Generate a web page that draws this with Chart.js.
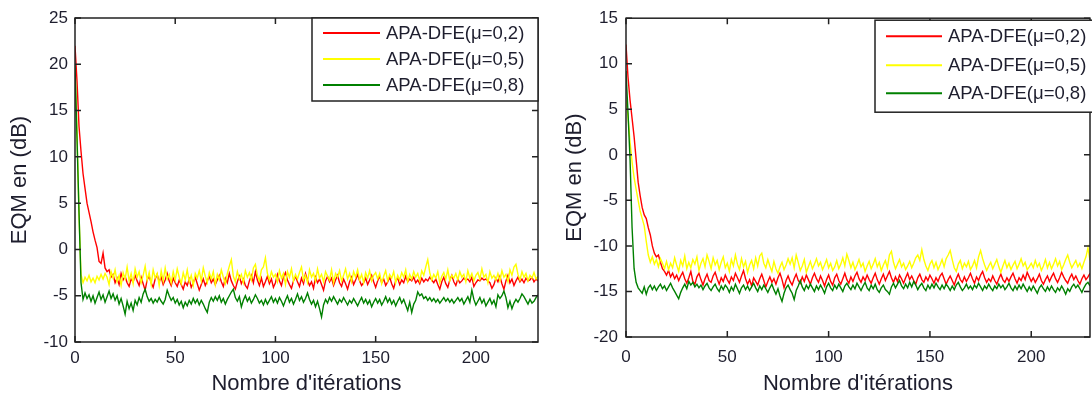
<!DOCTYPE html>
<html>
<head>
<meta charset="utf-8">
<script src="https://cdn.jsdelivr.net/npm/chart.js@4.4.1/dist/chart.umd.min.js"></script>
<style>
  html, body { margin: 0; padding: 0; background: #fff; overflow: hidden; }
  .panel { position: absolute; top: 0; width: 546px; height: 398px; }
  #leftPanel { left: 0; }
  #rightPanel { left: 546px; }
</style>
</head>
<body>
<div class="panel" id="leftPanel"><canvas id="chartLeft" width="546" height="398"></canvas></div>
<div class="panel" id="rightPanel"><canvas id="chartRight" width="546" height="398"></canvas></div>
<script>
// legend labels, shared by both panels
const seriesLabels = ["APA-DFE(\u03bc=0,2)", "APA-DFE(\u03bc=0,5)", "APA-DFE(\u03bc=0,8)"];
const seriesColors = ["#ff0000", "#ffff00", "#008000"];
const xTickValues = [0, 50, 100, 150, 200];
const yTicksLeft = [-10, -5, 0, 5, 10, 15, 20, 25];
const yTicksRight = [-20, -15, -10, -5, 0, 5, 10, 15];

// left panel, EQM (dB) per iteration (0..231)
const leftRed = [
  22.0, 18.2, 13.3, 10.6, 8.2, 6.6, 5.0, 4.0, 3.0, 1.9, 1.0,
  0.2, -1.3, -1.5, -0.4, -2.0, -2.4, -2.2, -3.0, -2.7, -3.6,
  -3.1, -3.8, -2.6, -3.3, -2.9, -3.6, -4.0, -3.2, -3.5, -2.8,
  -3.4, -3.9, -3.0, -3.7, -4.4, -3.3, -2.9, -3.6, -4.1, -3.2,
  -2.7, -3.5, -3.0, -3.8, -3.3, -2.6, -3.4, -3.9, -3.1, -3.6,
  -4.0, -3.3, -3.8, -4.3, -3.5, -3.9, -3.2, -4.1, -3.6, -3.0,
  -3.7, -4.4, -3.8, -3.2, -3.9, -3.4, -2.9, -3.6, -3.2, -3.8,
  -3.3, -2.8, -3.5, -4.0, -3.1, -3.6, -2.6, -3.4, -3.9, -4.3,
  -3.5, -2.9, -3.7, -3.2, -3.9, -4.2, -3.4, -2.8, -3.6, -2.4,
  -3.3, -3.9, -3.1, -4.0, -3.5, -2.9, -3.7, -3.2, -4.1, -3.6,
  -2.7, -3.4, -3.9, -3.0, -2.5, -3.3, -3.8, -4.2, -3.4, -2.9,
  -3.5, -4.0, -3.1, -3.7, -2.6, -3.3, -3.9, -3.5, -4.2, -3.0,
  -3.6, -3.2, -3.8, -4.4, -3.4, -2.9, -3.5, -3.1, -3.9, -3.3,
  -2.8, -3.6, -4.0, -3.2, -3.7, -4.3, -3.5, -3.0, -3.8, -3.3,
  -2.7, -3.4, -3.9, -3.6, -3.1, -3.8, -3.3, -2.8, -3.5, -4.1,
  -3.4, -2.9, -3.6, -3.2, -3.9, -3.5, -3.0, -3.7, -4.2, -3.4,
  -3.1, -3.8, -3.3, -3.6, -2.9, -3.5, -3.2, -3.4, -3.0, -3.6,
  -3.3, -3.7, -3.1, -3.5, -3.2, -3.4, -3.0, -3.3, -3.6, -3.2,
  -3.8, -4.3, -3.5, -3.0, -3.7, -4.1, -3.3, -2.8, -3.5, -3.9,
  -3.2, -3.6, -3.4, -3.1, -3.3, -3.2, -3.5, -3.0, -4.0, -3.6,
  -3.3, -3.4, -3.1, -3.3, -3.2, -3.4, -3.6, -4.2, -3.8, -3.1,
  -3.5, -2.9, -3.7, -4.3, -3.4, -2.8, -3.6, -3.2, -3.9, -3.4,
  -3.0, -3.5, -3.2, -3.6, -3.1, -3.4, -3.3, -3.0, -3.5, -3.2, -3.4
];
const leftYellow = [
  19.5, 12.6, 3.8, -2.7, -3.6, -3.0, -3.4, -2.8, -3.5, -3.1, -3.6,
  -2.9, -3.3, -2.7, -3.2, -2.6, -3.0, -3.8, -2.4, -3.1, -2.2,
  -3.5, -2.8, -3.9, -2.5, -3.2, -1.9, -3.4, -2.6, -3.7, -2.1,
  -3.0, -2.4, -3.6, -2.8, -1.8, -3.3, -2.5, -3.8, -2.2, -3.1,
  -2.6, -3.9, -2.3, -3.4, -2.0, -3.2, -2.7, -3.6, -2.4, -3.3,
  -2.1, -3.0, -3.7, -2.5, -3.3, -2.2, -3.5, -2.8, -3.9, -2.6,
  -3.1, -2.3, -3.4, -2.0, -2.9, -3.6, -2.5, -3.2, -2.4, -3.8,
  -2.7, -3.3, -2.2, -3.0, -3.7, -2.6, -1.8, -1.1, -2.9, -3.5,
  -2.4, -3.2, -2.7, -3.6, -2.3, -3.0, -2.5, -3.3, -2.0, -1.6,
  -2.8, -3.4, -2.2, -1.9, -0.9, -2.6, -3.3, -2.4, -3.0, -2.7,
  -3.5, -2.3, -3.1, -2.6, -3.8, -2.4, -3.0, -2.1, -3.4, -2.7,
  -3.2, -2.5, -1.9, -3.3, -2.8, -3.6, -2.2, -3.0, -2.6, -3.4,
  -2.1, -3.1, -2.7, -3.5, -2.4, -2.9, -3.3, -2.2, -3.6, -2.6,
  -3.0, -2.3, -3.4, -2.8, -2.1, -3.2, -2.6, -3.5, -2.4, -3.0,
  -2.2, -3.3, -2.7, -3.6, -2.5, -3.1, -2.3, -3.4, -2.8, -2.5,
  -3.2, -2.6, -3.7, -2.9, -2.3, -3.4, -2.7, -3.1, -2.4, -3.6,
  -2.8, -3.3, -2.5, -3.0, -2.2, -3.5, -2.7, -3.2, -2.4, -3.0,
  -2.6, -3.4, -2.3, -2.8, -1.9, -1.1, -2.5, -3.3, -2.7, -3.1,
  -2.4, -3.6, -2.9, -2.5, -3.2, -2.2, -3.4, -2.8, -3.1, -2.6,
  -3.3, -2.4, -3.0, -2.7, -3.5, -2.3, -3.1, -2.6, -3.4, -2.8,
  -2.5, -3.2, -2.1, -3.0, -2.7, -3.6, -2.4, -3.1, -2.8, -3.3,
  -2.6, -3.4, -2.3, -3.0, -2.7, -3.5, -2.2, -2.8, -1.9, -1.6,
  -2.7, -3.3, -2.4, -3.0, -2.6, -3.4, -2.8, -3.1, -2.5, -3.2, -2.9
];
const leftGreen = [
  19.9, 12.0, 4.0, -3.6, -5.4, -4.7, -5.3, -4.9, -5.6, -5.0, -5.8,
  -5.2, -4.6, -5.4, -4.9, -5.7, -5.1, -4.5, -5.3, -4.8, -5.5,
  -5.0, -5.9, -5.3, -6.1, -7.0, -5.6, -6.4, -5.8, -6.6, -5.5,
  -6.0, -5.2, -5.7, -4.8, -4.3, -5.1, -5.6, -5.3, -5.8, -5.4,
  -5.7, -5.2, -5.6, -5.9, -5.4, -4.4, -5.0, -5.5, -5.2, -5.8,
  -5.4, -6.0, -5.6, -6.3, -5.7, -6.1, -5.5, -5.9, -5.3, -5.8,
  -5.4, -6.0, -5.5, -5.9, -6.4, -6.8, -5.7, -5.2, -5.6, -5.1,
  -5.5, -5.0, -5.7, -5.3, -5.9, -5.4, -5.0, -4.6, -4.3, -5.2,
  -5.6, -5.1, -6.2, -5.5, -5.0, -5.6, -5.2, -5.8, -5.4, -4.9,
  -5.3, -5.8, -5.5, -6.0, -5.4, -5.9, -5.5, -5.1, -5.7, -5.3,
  -5.8, -5.2, -5.6, -6.1, -5.5, -5.0, -5.7, -5.3, -5.9, -5.4,
  -4.8, -5.5, -5.1, -5.7, -5.3, -4.7, -5.4, -5.9, -5.5, -6.2,
  -5.6, -6.4, -7.3, -6.0, -5.4, -5.8, -5.2, -5.6, -5.1, -5.5,
  -5.9, -5.4, -5.7, -5.2, -5.6, -6.0, -5.5, -5.8, -5.3, -5.7,
  -6.1, -5.6, -5.2, -5.8, -5.4, -5.9, -5.5, -6.2, -5.7, -5.3,
  -5.8, -5.4, -6.0, -5.6, -5.1, -5.7, -5.3, -5.9, -5.5, -6.1,
  -5.6, -5.2, -5.8, -5.4, -6.0, -6.6, -5.7, -6.8, -5.9, -5.5,
  -4.6, -5.0, -4.8, -5.3, -5.1, -5.5, -5.2, -5.6, -5.3, -5.7,
  -5.4, -5.8, -5.5, -5.2, -5.6, -5.3, -5.7, -5.4, -5.8, -5.5,
  -5.2, -5.6, -5.3, -5.9, -5.5, -5.1, -5.7, -4.4, -5.4, -6.0,
  -5.6, -5.2, -5.8, -5.4, -6.1, -5.7, -5.3, -5.9, -5.5, -6.2,
  -4.9, -5.3, -5.0, -4.5, -5.2, -6.3, -5.6, -6.4, -5.8, -5.4,
  -5.7, -5.3, -4.8, -5.1, -5.5, -5.9, -5.4, -5.8, -5.6, -5.2, -4.9
];

// right panel, EQM (dB) per iteration (0..229)
const rightRed = [
  12.1, 8.5, 6.0, 4.0, 2.0, -0.5, -3.0, -4.5, -5.8, -6.6, -7.0,
  -8.0, -8.8, -10.0, -10.8, -11.2, -11.0, -11.8, -12.5, -12.8, -13.2,
  -12.7, -13.4, -13.0, -13.6, -13.2, -13.8, -13.3, -12.9, -13.6, -14.1,
  -13.5, -12.8, -13.9, -14.2, -13.4, -13.0, -13.7, -14.3, -13.6, -13.1,
  -13.8, -14.0, -13.3, -12.9, -13.6, -14.2, -13.5, -13.9, -13.2, -13.7,
  -14.1, -13.4, -13.8, -13.0, -13.5, -14.0, -13.3, -12.7, -13.6, -14.2,
  -13.7, -14.4, -13.5, -13.9, -14.3, -13.6, -13.1, -13.8, -14.5, -13.9,
  -13.4, -14.0, -13.6, -14.2, -13.5, -13.0, -13.7, -14.6, -13.8, -13.3,
  -13.9, -14.3, -13.6, -13.1, -13.8, -14.1, -13.4, -13.9, -13.2, -13.7,
  -14.2, -13.5, -13.0, -13.6, -14.0, -13.3, -13.8, -14.4, -13.7, -13.2,
  -13.9, -14.3, -13.5, -13.1, -13.8, -14.2, -13.6, -13.0, -13.7, -14.1,
  -13.4, -13.9, -13.3, -12.9, -13.6, -14.0, -13.4, -13.8, -13.2, -13.7,
  -14.1, -13.5, -13.0, -13.7, -14.2, -13.6, -13.1, -13.8, -13.3, -12.8,
  -13.5, -14.0, -13.4, -13.9, -13.2, -13.6, -14.1, -13.5, -13.0, -13.7,
  -13.3, -13.8, -14.2, -13.5, -13.1, -13.7, -14.0, -13.4, -13.8, -13.2,
  -13.6, -14.1, -13.5, -13.9, -13.3, -13.0, -13.6, -14.2, -13.7, -13.3,
  -13.8, -14.3, -13.6, -13.1, -13.7, -14.0, -13.4, -13.9, -13.5, -13.0,
  -13.6, -14.1, -13.4, -13.8, -13.2, -12.8, -13.5, -14.0, -13.6, -13.9,
  -13.3, -13.8, -14.2, -13.6, -13.1, -13.7, -14.0, -13.5, -13.9, -13.4,
  -13.0, -13.6, -14.1, -13.5, -13.8, -13.2, -13.7, -12.9, -13.4, -13.9,
  -13.5, -14.0, -13.6, -13.1, -13.8, -14.2, -13.7, -13.3, -13.9, -13.4,
  -13.0, -13.6, -14.0, -13.5, -12.9, -13.4, -13.8, -14.1, -13.5, -13.1,
  -13.7, -13.3, -13.8, -14.2, -13.6, -13.2, -13.7, -13.4, -13.0
];
const rightYellow = [
  6.0, 4.2, 1.4, -0.8, -2.5, -3.8, -5.0, -6.2, -7.0, -7.8, -9.5,
  -11.0, -11.8, -11.2, -12.0, -11.5, -12.3, -11.4, -11.9, -12.5, -11.7,
  -12.6, -11.9, -12.4, -11.3, -12.1, -12.8, -11.6, -12.2, -11.1, -12.5,
  -11.8, -12.4, -11.5, -12.0, -11.2, -12.7, -11.9, -11.4, -12.3, -11.0,
  -11.7, -12.5, -11.3, -12.1, -11.6, -12.6, -11.8, -11.2, -12.4, -11.9,
  -12.8, -11.5, -12.2, -11.0, -12.0, -12.6, -11.4, -12.3, -11.7, -12.9,
  -12.1, -11.6, -12.5, -11.3, -12.2, -11.1, -10.8, -11.9, -12.4, -11.5,
  -12.2, -12.8, -11.7, -12.5, -13.0, -12.3, -11.8, -12.6, -12.1, -11.4,
  -12.0, -11.3, -12.4, -11.0, -11.8, -12.7, -12.2, -11.5, -12.9, -12.3,
  -11.7, -12.5, -12.0, -11.4, -12.2, -11.8, -12.6, -12.1, -11.5, -12.4,
  -11.9, -12.7, -12.3, -11.6, -12.5, -12.0, -11.3, -12.2, -10.9, -11.6,
  -12.4, -11.8, -12.6, -12.1, -11.5, -12.3, -11.9, -12.8, -12.2, -11.7,
  -12.5, -12.0, -11.4, -12.3, -11.8, -12.7, -12.1, -11.6, -12.4, -11.0,
  -10.6, -11.8, -12.5, -12.0, -11.5, -12.3, -11.9, -12.6, -12.2, -11.7,
  -12.4, -11.9, -11.3, -11.0, -11.6, -10.4, -11.5, -12.2, -12.7, -12.0,
  -11.6, -12.4, -11.8, -12.6, -12.1, -11.5, -12.3, -11.4, -11.0, -10.5,
  -11.5, -12.4, -12.8, -12.0, -11.6, -12.5, -11.9, -12.3, -11.7, -12.6,
  -12.2, -11.6, -12.4, -11.2, -10.5, -11.4, -12.1, -12.7, -12.2, -11.8,
  -12.5, -12.0, -11.5, -12.3, -12.9, -12.2, -11.6, -12.4, -11.9, -12.6,
  -12.1, -11.7, -12.5, -12.0, -11.4, -12.2, -11.8, -12.6, -12.3, -11.9,
  -12.4, -11.6, -12.3, -11.9, -12.7, -12.2, -11.5, -12.4, -11.8, -12.5,
  -12.0, -11.4, -12.2, -11.7, -12.6, -12.1, -11.5, -11.0, -11.8, -12.4,
  -12.0, -11.6, -12.3, -11.9, -12.5, -11.8, -11.2, -10.2, -11.6
];
const rightGreen = [
  9.2, 4.6, -0.5, -8.0, -12.5, -14.0, -14.6, -14.9, -15.2, -14.5, -15.3,
  -14.6, -14.3, -14.8, -14.4, -14.9, -14.5, -14.2, -14.7, -14.4, -14.9,
  -14.5, -14.1, -14.6, -15.0, -15.4, -15.8, -15.1, -14.6, -14.2, -14.7,
  -13.9, -14.3, -14.0, -14.5, -14.2, -14.6, -14.3, -14.8, -14.4, -14.1,
  -14.6, -14.9, -14.5, -14.2, -14.7, -15.0, -14.4, -14.8, -14.3, -14.6,
  -15.1, -14.5, -14.9, -14.2, -14.7, -15.2, -14.6, -14.3, -14.8, -14.4,
  -14.9, -14.5, -14.1, -14.6, -15.0, -14.4, -14.8, -14.3, -14.7, -15.1,
  -14.6, -14.2, -14.8, -15.3, -14.7, -15.5, -16.1, -15.2, -14.6, -14.3,
  -14.8, -15.2, -15.9, -14.9, -14.4, -13.8, -14.5, -14.9, -14.3, -14.7,
  -14.2, -14.6, -15.0, -14.4, -14.8, -14.3, -14.7, -15.2, -14.5, -14.1,
  -14.6, -14.9, -14.3, -14.7, -14.2, -14.6, -15.0, -14.4, -14.1, -14.5,
  -14.8, -14.3, -14.7, -14.1, -14.5, -14.9, -14.4, -14.0, -14.6, -14.9,
  -14.3, -14.7, -14.2, -14.8, -15.1, -14.6, -14.3, -14.8, -15.0, -15.3,
  -14.5, -14.1, -14.6, -14.2, -13.8, -14.4, -14.7, -14.2, -14.6, -14.0,
  -14.5, -13.9, -14.3, -14.8, -14.4, -14.1, -14.6, -14.9, -14.3, -14.7,
  -14.2, -14.6, -14.1, -14.5, -14.8, -14.3, -14.7, -14.2, -14.5, -14.9,
  -14.4, -14.8, -14.3, -14.0, -14.5, -14.9, -14.6, -14.2, -14.7, -14.4,
  -14.8, -14.3, -14.6, -14.1, -14.5, -14.9, -14.4, -14.7, -14.2, -14.6,
  -14.9, -14.4, -14.7, -14.2, -14.6, -14.3, -14.8, -14.5, -14.1, -14.6,
  -14.9, -14.4, -14.8, -14.3, -14.7, -14.2, -14.6, -15.0, -14.5, -14.9,
  -14.4, -14.8, -15.2, -14.6, -14.3, -14.7, -15.0, -14.5, -14.9, -14.4,
  -14.8, -15.1, -14.6, -14.9, -14.4, -14.8, -15.3, -14.7, -15.0, -14.5,
  -14.2, -14.6, -14.3, -14.7, -15.1, -14.6, -14.2, -14.0, -14.4
];

const FONT = "'Liberation Sans', Arial, sans-serif";
const TEXT = "#1e1e2e";

// Frame with inward ticks (MATLAB style) plus a boxed legend inside the plot
const framePlugin = {
  id: "frame",
  afterDatasetsDraw(chart, args, opts) {
    const { ctx, chartArea: a, scales } = chart;
    ctx.save();
    ctx.strokeStyle = "#222";
    ctx.lineWidth = 1.5;
    ctx.beginPath();
    scales.x.ticks.forEach((t) => {
      const px = scales.x.getPixelForValue(t.value);
      ctx.moveTo(px, a.bottom);
      ctx.lineTo(px, a.bottom - 6);
      ctx.moveTo(px, a.top);
      ctx.lineTo(px, a.top + 6);
    });
    scales.y.ticks.forEach((t) => {
      const py = scales.y.getPixelForValue(t.value);
      ctx.moveTo(a.left, py);
      ctx.lineTo(a.left + 6, py);
      ctx.moveTo(a.right, py);
      ctx.lineTo(a.right - 6, py);
    });
    ctx.stroke();
    ctx.strokeRect(a.left, a.top, a.right - a.left, a.bottom - a.top);

    // legend box
    const bx = a.right + opts.dx;
    const by = a.top + opts.dy;
    ctx.fillStyle = "#fff";
    ctx.fillRect(bx, by, opts.w, opts.h);
    ctx.strokeRect(bx, by, opts.w, opts.h);
    ctx.font = opts.fontSize + "px " + FONT;
    ctx.textBaseline = "middle";
    chart.data.datasets.forEach((ds, i) => {
      const y = by + opts.rows[i];
      ctx.strokeStyle = ds.borderColor;
      ctx.lineWidth = 2;
      ctx.beginPath();
      ctx.moveTo(bx + opts.lineX[0], y);
      ctx.lineTo(bx + opts.lineX[1], y);
      ctx.stroke();
      ctx.fillStyle = TEXT;
      ctx.fillText(ds.label, bx + opts.textX, y + 1);
    });
    ctx.restore();
  },
};

function makeChart(id, series, cfg) {
  const ctx = document.getElementById(id).getContext("2d");
  return new Chart(ctx, {
    type: "line",
    data: {
      datasets: series.map((values, i) => ({
        label: seriesLabels[i],
        data: values.map((y, k) => ({ x: k, y: y })),
        borderColor: seriesColors[i],
        borderWidth: 1.4,
        pointRadius: 0,
        tension: 0,
        order: 3 - i, // later series drawn on top, like MATLAB
      })),
    },
    options: {
      responsive: false,
      animation: false,
      layout: { padding: { top: cfg.top, right: cfg.right, left: 0, bottom: 0 } },
      plugins: {
        legend: { display: false },
        tooltip: { enabled: false },
        frame: cfg.legend,
      },
      scales: {
        x: {
          type: "linear",
          min: 0,
          max: cfg.xMax,
          grid: { display: false, drawTicks: false },
          border: { display: false },
          afterBuildTicks: (s) => {
            s.ticks = xTickValues.map((v) => ({ value: v }));
          },
          afterFit: (s) => {
            s.height = cfg.xHeight;
          },
          ticks: {
            color: TEXT,
            padding: cfg.xTickPad,
            maxRotation: 0,
            font: { family: FONT, size: 17 },
          },
          title: {
            display: true,
            text: "Nombre d'it\u00e9rations",
            color: TEXT,
            font: { family: FONT, size: 22 },
            padding: { top: 0, bottom: 1 },
          },
        },
        y: {
          min: cfg.yTicks[0],
          max: cfg.yTicks[cfg.yTicks.length - 1],
          grid: { display: false, drawTicks: false },
          border: { display: false },
          afterBuildTicks: (s) => {
            s.ticks = cfg.yTicks.map((v) => ({ value: v }));
          },
          afterFit: (s) => {
            s.width = cfg.yWidth;
          },
          ticks: {
            color: TEXT,
            padding: cfg.yTickPad,
            font: { family: FONT, size: 17 },
          },
          title: {
            display: true,
            text: "EQM en (dB)",
            color: TEXT,
            font: { family: FONT, size: 22 },
            padding: { top: cfg.yTitlePad, bottom: 0 },
          },
        },
      },
    },
    plugins: [framePlugin],
  });
}

makeChart("chartLeft", [leftRed, leftYellow, leftGreen], {
  top: 18, right: 8, xMax: 231, xHeight: 56, yWidth: 75,
  xTickPad: 6, yTickPad: 7, yTitlePad: 7, yTicks: yTicksLeft,
  legend: { dx: -226, dy: 0, w: 226, h: 83, rows: [15, 41, 67], lineX: [11, 68], textX: 74, fontSize: 18.5 },
});

makeChart("chartRight", [rightRed, rightYellow, rightGreen], {
  top: 11, right: 2, xMax: 229, xHeight: 61, yWidth: 80,
  xTickPad: 10, yTickPad: 8, yTitlePad: 16, yTicks: yTicksRight,
  legend: { dx: -215, dy: 2, w: 260, h: 92, rows: [16, 45, 73], lineX: [11, 67], textX: 73, fontSize: 18.5 },
});
</script>
</body>
</html>
